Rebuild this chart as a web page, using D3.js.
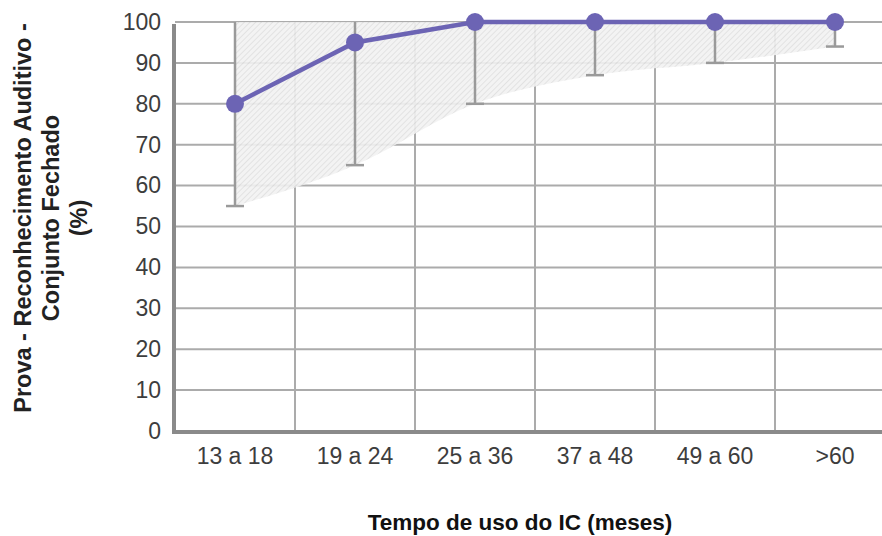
<!DOCTYPE html>
<html>
<head>
<meta charset="utf-8">
<script src="https://cdn.jsdelivr.net/npm/d3@7"></script>
<style>
  body { margin: 0; background: #fff; }
  text { font-family: "Liberation Sans", Arial, sans-serif; }
</style>
</head>
<body>
<div class="chart"></div>
<script>
// data
const categories = ["13 a 18", "19 a 24", "25 a 36", "37 a 48", "49 a 60", ">60"];
const means = [80, 95, 100, 100, 100, 100];
const lower = [55, 65, 80, 87, 90, 94];
const upper = [100, 100, 100, 100, 100, 100];
const yTicks = [0, 10, 20, 30, 40, 50, 60, 70, 80, 90, 100];

const W = 882, H = 536;
const margin = { top: 22, left: 175, bottom: 105 };
const plotH = H - margin.top - margin.bottom;

const svg = d3.select(".chart")
    .append("svg")
    .attr("width", W)
    .attr("height", H);

const x = d3.scaleBand()
    .domain(categories)
    .range([margin.left, margin.left + 720])
    .padding(0);
const y = d3.scaleLinear()
    .domain([0, 100])
    .range([margin.top + plotH, margin.top]);

const cx = d => x(d) + x.bandwidth() / 2;

// hatch pattern for the range band
const defs = svg.append("defs");
const pat = defs.append("pattern")
    .attr("id", "hatch")
    .attr("patternUnits", "userSpaceOnUse")
    .attr("width", 4)
    .attr("height", 4)
    .attr("patternTransform", "rotate(45)");
pat.append("rect").attr("width", 4).attr("height", 4).attr("fill", "#f2f2f2");
pat.append("line")
    .attr("x1", 0).attr("y1", 0).attr("x2", 0).attr("y2", 4)
    .attr("stroke", "#d2d2d2").attr("stroke-width", 1.2);

// grid
const grid = svg.append("g");
grid.selectAll(".hg")
    .data(yTicks.filter(d => d > 0))
    .join("line")
    .attr("x1", margin.left).attr("x2", W)
    .attr("y1", d => y(d)).attr("y2", d => y(d))
    .attr("stroke", "#ababab").attr("stroke-width", 2);
grid.selectAll(".vg")
    .data(categories.slice(1))
    .join("line")
    .attr("x1", d => x(d)).attr("x2", d => x(d))
    .attr("y1", y(100)).attr("y2", y(0))
    .attr("stroke", "#ababab").attr("stroke-width", 2);

// shaded range area
const band = categories.map((c, i) => ({ c, lo: lower[i], hi: upper[i] }));
svg.append("path")
    .datum(band)
    .attr("fill", "url(#hatch)")
    .attr("opacity", 0.9)
    .attr("d", d3.area()
        .x(d => cx(d.c))
        .y0(d => y(d.lo))
        .y1(d => y(d.hi))
        .curve(d3.curveMonotoneX));

// axes lines
svg.append("line")
    .attr("x1", margin.left - 1).attr("x2", margin.left - 1)
    .attr("y1", y(100) + 2).attr("y2", y(0) + 2)
    .attr("stroke", "#8a8a8a").attr("stroke-width", 4);
svg.append("line")
    .attr("x1", margin.left - 3).attr("x2", W)
    .attr("y1", y(0) + 1).attr("y2", y(0) + 1)
    .attr("stroke", "#8a8a8a").attr("stroke-width", 4);

// error bars
const eb = svg.append("g")
    .attr("stroke", "#9a9a9a")
    .attr("stroke-width", 2.5);
eb.selectAll(".stem")
    .data(categories)
    .join("line")
    .attr("x1", d => cx(d)).attr("x2", d => cx(d))
    .attr("y1", (d, i) => y(upper[i])).attr("y2", (d, i) => y(lower[i]));
eb.selectAll(".cap")
    .data(categories)
    .join("line")
    .attr("x1", d => cx(d) - 9).attr("x2", d => cx(d) + 9)
    .attr("y1", (d, i) => y(lower[i])).attr("y2", (d, i) => y(lower[i]));

// mean line and markers
const pts = categories.map((c, i) => ({ c, v: means[i] }));
svg.append("path")
    .datum(pts)
    .attr("fill", "none")
    .attr("stroke", "#6c64b4")
    .attr("stroke-width", 4.5)
    .attr("d", d3.line().x(d => cx(d.c)).y(d => y(d.v)));
svg.selectAll(".dot")
    .data(pts)
    .join("circle")
    .attr("cx", d => cx(d.c))
    .attr("cy", d => y(d.v))
    .attr("r", 9)
    .attr("fill", "#6c64b4");

// y tick labels
svg.append("g")
    .attr("transform", `translate(${margin.left - 14},0)`)
    .call(d3.axisLeft(y).tickValues(yTicks).tickSize(0).tickPadding(0))
    .call(g => g.select(".domain").remove())
    .call(g => g.selectAll("text")
        .attr("font-size", 23)
        .attr("fill", "#3d3d3d")
        .attr("font-family", "Liberation Sans, Arial, sans-serif"));

// x tick labels
svg.append("g")
    .attr("transform", `translate(0,${y(0) + 17})`)
    .call(d3.axisBottom(x).tickSize(0).tickPadding(0))
    .call(g => g.select(".domain").remove())
    .call(g => g.selectAll("text")
        .attr("font-size", 23)
        .attr("fill", "#3d3d3d")
        .attr("font-family", "Liberation Sans, Arial, sans-serif"));

// axis titles
svg.append("text")
    .attr("x", 520)
    .attr("y", 530)
    .attr("text-anchor", "middle")
    .attr("font-size", 22.5)
    .attr("font-weight", "bold")
    .attr("fill", "#111")
    .text("Tempo de uso do IC (meses)");

const yTitle = ["Prova - Reconhecimento Auditivo -", "Conjunto Fechado", "(%)"];
svg.append("g")
    .attr("transform", "translate(31,218) rotate(-90)")
    .selectAll("text")
    .data(yTitle)
    .join("text")
    .attr("x", 0)
    .attr("y", (d, i) => i * 28)
    .attr("text-anchor", "middle")
    .attr("font-size", 23.5)
    .attr("font-weight", "bold")
    .attr("fill", "#222")
    .text(d => d);
</script>
</body>
</html>
